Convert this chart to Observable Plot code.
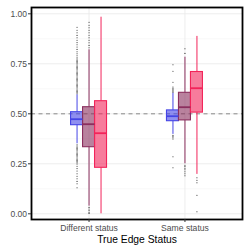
<!DOCTYPE html>
<html><head><meta charset="utf-8">
<script src="https://cdn.jsdelivr.net/npm/d3@7"></script>
<script src="https://cdn.jsdelivr.net/npm/@observablehq/plot@0.6"></script>
<style>body{margin:0;background:#fff}</style>
</head><body><div id="chart"></div>
<script>
const categories = ["Different status", "Same status"];
const groups = ["g1", "g2", "g3"];
const colors = ["#4545e6", "#8b2f5e", "#f2245a"];
// per group, values for [Different status, Same status]
const lowerWhisker = {g1: [0.35, 0.397], g2: [0.038, 0.25], g3: [0.0, 0.197]};
const q1 = {g1: [0.443, 0.463], g2: [0.333, 0.467], g3: [0.23, 0.506]};
const median = {g1: [0.473, 0.488], g2: [0.448, 0.533], g3: [0.403, 0.628]};
const q3 = {g1: [0.508, 0.517], g2: [0.533, 0.605], g3: [0.563, 0.709]};
const upperWhisker = {g1: [0.595, 0.603], g2: [0.82, 0.783], g3: [0.983, 0.887]};
const outliers = {
  g1: [
    [0.60,0.606,0.612,0.618,0.624,0.63,0.636,0.642,0.648,0.654,0.66,0.666,0.672,0.678,0.684,0.69,0.696,0.702,0.708,0.714,0.72,0.726,0.732,0.738,0.744,0.75,0.756,0.762,0.768,0.774,0.78,
     0.79,0.80,0.81,0.822,0.834,0.845,0.856,0.868,0.88,0.892,0.905,0.918,0.933,
     0.345,0.339,0.333,0.327,0.321,0.315,0.309,0.303,0.297,0.291,0.285,0.279,0.273,0.267,0.261,0.255,0.249,
     0.238,0.226,0.214,0.2,0.188,0.175,0.162,0.15,0.13],
    [0.608,0.613,0.618,0.623,0.628,0.634,0.658,0.713,0.745,0.392,0.386,0.38,0.374,0.285,0.23]
  ],
  g2: [
    [0.83,0.842,0.855,0.868,0.88,0.893,0.905,0.918,0.93,0.943,0.958,0.032,0.024,0.016,0.008,0.002],
    [0.802,0.825,0.243,0.236,0.228,0.22,0.21,0.2,0.19]
  ],
  g3: [
    [],
    [0.18,0.168,0.155,0.093,0.01]
  ]
};
const threshold = [0.5];
const xTitle = ["True Edge Status"];
const yTicks = [0, 0.25, 0.5, 0.75, 1];
const yMinor = [0.125, 0.375, 0.625, 0.875];

// dodge layout: category index + group offset
const offset = {g1: -0.125, g2: 0, g3: 0.125};
const halfW = 0.0625;
const boxes = [];
const outPts = [];
groups.forEach((g, gi) => categories.forEach((c, ci) => {
  const xc = ci + 1 + offset[g];
  boxes.push({g, c, xc, x1: xc - halfW, x2: xc + halfW,
    lo: lowerWhisker[g][ci], q1: q1[g][ci], med: median[g][ci], q3: q3[g][ci], hi: upperWhisker[g][ci]});
  outliers[g][ci].forEach(v => outPts.push({g, c, xc, v}));
}));

const chart = Plot.plot({
  width: 248, height: 248,
  marginLeft: 31, marginRight: 6, marginTop: 7, marginBottom: 29,
  style: {fontFamily: "'Liberation Sans', Arial, Helvetica, sans-serif", background: "#fff"},
  x: {domain: [0.4, 2.6], axis: null},
  y: {domain: [-0.0285, 1.0315], axis: null},
  color: {domain: groups, range: colors},
  marks: [
    Plot.ruleY(yMinor, {stroke: "#f2f2f2", strokeWidth: 0.6}),
    Plot.ruleY(yTicks, {stroke: "#ebebeb", strokeWidth: 0.9}),
    Plot.ruleX([1, 2], {stroke: "#ebebeb", strokeWidth: 0.9}),
    Plot.ruleY(threshold, {stroke: "#8a8a8a", strokeWidth: 1, strokeDasharray: "4,3.5"}),
    Plot.ruleX(boxes, {x: "xc", y1: "lo", y2: "q1", stroke: "g", strokeWidth: 1}),
    Plot.ruleX(boxes, {x: "xc", y1: "q3", y2: "hi", stroke: "g", strokeWidth: 1}),
    Plot.rect(boxes, {x1: "x1", x2: "x2", y1: "q1", y2: "q3", fill: "g", fillOpacity: 0.6, stroke: "g", strokeWidth: 1.1}),
    Plot.ruleY(boxes, {y: "med", x1: "x1", x2: "x2", stroke: "g", strokeWidth: 1.8}),
    Plot.dot(outPts, {x: "xc", y: "v", r: 0.55, fill: "#222", stroke: null}),
    Plot.frame({stroke: "#000", strokeWidth: 1.8}),
    Plot.axisY(yTicks, {tickSize: 3, tickPadding: 1.5, tickFormat: d3.format(".2f"), fontSize: 8.5, fill: "#4d4d4d", stroke: "#333", label: null}),
    Plot.axisX([1, 2], {tickSize: 3, tickPadding: 2, tickFormat: d => categories[d - 1], fontSize: 8.6, fill: "#4d4d4d", stroke: "#333", label: null}),
    Plot.text(xTitle, {text: d => d, frameAnchor: "bottom", dy: 20, fontSize: 10.3, fill: "#000", lineAnchor: "middle"})
  ]
});
document.getElementById("chart").appendChild(chart);
</script>
</body></html>
